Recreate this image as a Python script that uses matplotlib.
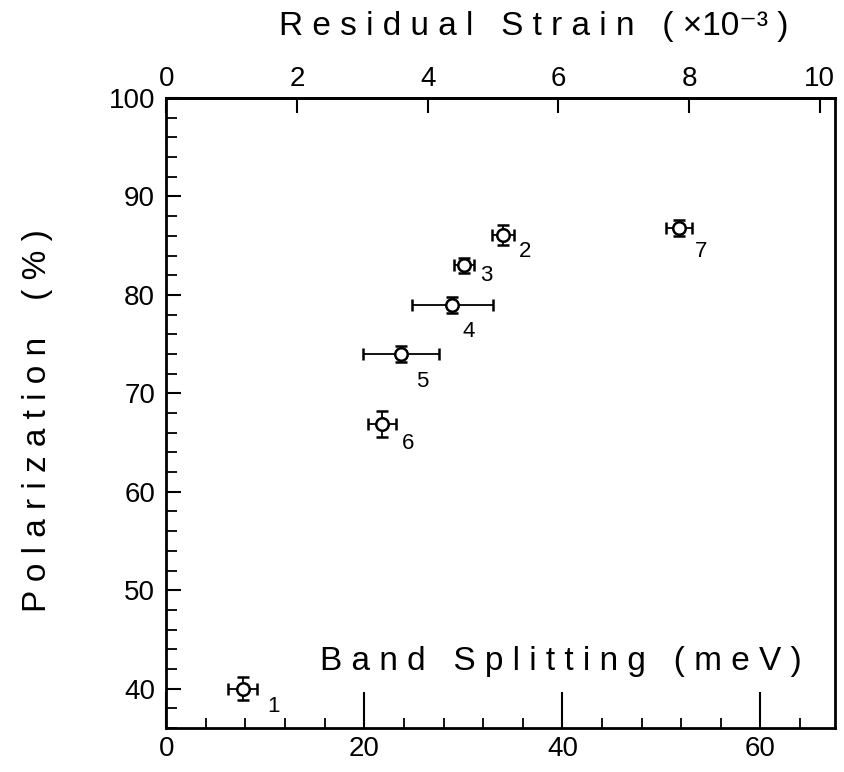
import matplotlib
matplotlib.use("Agg")
import matplotlib.pyplot as plt
from matplotlib.ticker import MultipleLocator

# sample number, band splitting (meV), polarization (%), errors
samples = ["1", "2", "3", "4", "5", "6", "7"]
splitting = [7.7, 34.0, 30.1, 28.9, 23.7, 21.8, 51.8]
polarization = [40.0, 86.1, 83.0, 79.0, 74.0, 66.9, 86.8]
split_err = [1.5, 1.1, 1.0, 4.1, 3.8, 1.4, 1.3]
pol_err = [1.2, 1.0, 0.8, 0.8, 0.8, 1.3, 0.8]
# label offsets (points) from each marker
label_dx = [22, 16, 16, 12, 15, 19, 16]
label_dy = [-13, -12, -7, -19, -20, -14, -17]

MEV_PER_STRAIN = 6.6  # meV per 1e-3 strain for the top axis


def spaced(s):
    return " ".join(s)


def main() -> None:
    plt.rcParams["font.family"] = ["Liberation Sans", "DejaVu Sans"]
    fig = plt.figure(figsize=(8.44, 7.72), dpi=100)
    ax = fig.add_axes([0.197, 0.057, 0.792, 0.816])

    ax.errorbar(
        splitting, polarization, xerr=split_err, yerr=pol_err,
        fmt="o", ms=9, mfc="white", mec="black", mew=1.8,
        ecolor="black", elinewidth=1.3, capsize=4, capthick=1.5, zorder=3,
    )
    for lab, x, y, dx, dy in zip(samples, splitting, polarization, label_dx, label_dy):
        ax.annotate(lab, (x, y), xytext=(dx, dy), textcoords="offset points",
                    fontsize=16, ha="center", va="center")

    ax.set_xlim(0, 67.5)
    ax.set_ylim(36, 100)
    for sp in ax.spines.values():
        sp.set_linewidth(2)

    ax.xaxis.set_major_locator(MultipleLocator(20))
    ax.xaxis.set_minor_locator(MultipleLocator(4))
    ax.yaxis.set_major_locator(MultipleLocator(10))
    ax.yaxis.set_minor_locator(MultipleLocator(2))
    ax.set_yticks([40, 50, 60, 70, 80, 90, 100])
    ax.tick_params(axis="x", which="major", direction="in", length=26, width=1.5,
                   labelsize=20, pad=6, top=False)
    ax.tick_params(axis="x", which="minor", direction="in", length=7, width=1.3, top=False)
    ax.tick_params(axis="y", which="major", direction="in", length=11, width=1.5,
                   labelsize=20, pad=8, right=False)
    ax.tick_params(axis="y", which="minor", direction="in", length=8, width=1.3, right=False)

    top = ax.secondary_xaxis("top", functions=(lambda v: v / MEV_PER_STRAIN,
                                               lambda v: v * MEV_PER_STRAIN))
    top.set_xticks([0, 2, 4, 6, 8, 10])
    top.tick_params(direction="in", length=11, width=1.5, labelsize=20, pad=4)
    top.spines["top"].set_linewidth(2)

    ax.text(0.95, 0.105, spaced("Band Splitting") + "   " + spaced("(meV)"),
            transform=ax.transAxes, ha="right", va="center", fontsize=24)
    fig.text(0.632, 0.966, spaced("Residual Strain") + "   ( ×10⁻³ )",
             ha="center", va="center", fontsize=24)
    fig.text(0.044, 0.455, spaced("Polarization") + "    " + spaced("(%)"),
             rotation=90, ha="center", va="center", fontsize=24)

    fig.savefig("out.png", dpi=100)


if __name__ == "__main__":
    main()
